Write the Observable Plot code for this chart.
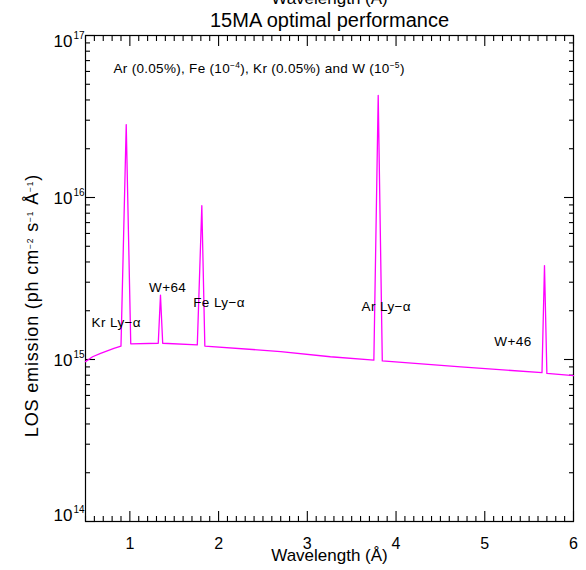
<!DOCTYPE html>
<html><head><meta charset="utf-8">
<script src="https://cdn.jsdelivr.net/npm/d3@7"></script>
<script src="https://cdn.jsdelivr.net/npm/@observablehq/plot@0.6"></script>
<style>body{margin:0;background:#fff} svg{display:block}</style>
</head><body><div id="chart"></div>
<script>
// Spectrum (wavelength in Å, LOS emission)
const wavelength = [0.50, 0.58, 0.67, 0.82, 0.90, 0.959, 1.01, 1.32, 1.345, 1.37, 1.76, 1.811, 1.845, 2.70, 3.26, 3.75, 3.799, 3.845, 4.73, 5.645, 5.673, 5.70, 6.00];
const emission   = [9.7e14, 1.04e15, 1.09e15, 1.17e15, 1.21e15, 2.82e16, 1.25e15, 1.26e15, 2.5e15, 1.26e15, 1.23e15, 8.9e15, 1.21e15, 1.12e15, 1.04e15, 9.9e14, 4.27e16, 9.8e14, 9.0e14, 8.3e14, 3.8e15, 8.2e14, 7.95e14];

// Line labels
const lineLabels = ["Kr Ly−α", "W+64", "Fe Ly−α", "Ar Ly−α", "W+46"];
const labelX = [0.568, 1.426, 1.714, 3.611, 5.318];
const labelY = [1.69e15, 2.77e15, 2.23e15, 2.12e15, 1.29e15];
const labelAlign = ["start", "middle", "start", "start", "middle"];

// Ticks
const xMajor = [1, 2, 3, 4, 5, 6];
const xMinor = d3.range(5, 61).filter(i => i % 10 !== 0).map(i => i / 10);
const yMajor = [1e14, 1e15, 1e16, 1e17];
const yExponents = ["14", "15", "16", "17"];
const yMinor = [14, 15, 16].flatMap(e => d3.range(2, 10).map(m => m * Math.pow(10, e)));

// Texts
const title = "15MA optimal performance";
const xTitle = "Wavelength (Å)";
const yTitle = "LOS emission (ph cm^{−2} s^{−1} Å^{−1})";
const note = "Ar (0.05%), Fe (10^{−4}), Kr (0.05%) and W (10^{−5})";

const spectrum = wavelength.map((w, i) => ({w, v: emission[i]}));
const labels = lineLabels.map((t, i) => ({t, x: labelX[i], y: labelY[i], a: labelAlign[i]}));
const yLab = yMajor.map((v, i) => ({v, e: yExponents[i]}));

const font = "'Liberation Sans', Arial, Helvetica, sans-serif";
const MAJOR = 10, MINOR = 5;
const blank = () => "";

// Inward ticks: Plot axes shifted inside the frame by their own tick length
const inX = (anchor, ticks, len) => Plot.axisX(ticks, {anchor, tickSize: len, dy: anchor === "bottom" ? -len : len, tickFormat: blank, label: null, stroke: "#000", strokeWidth: 1.1});
const inY = (anchor, ticks, len) => Plot.axisY(ticks, {anchor, tickSize: len, dx: anchor === "left" ? len : -len, tickFormat: blank, label: null, stroke: "#000", strokeWidth: 1.1});

const chart = Plot.plot({
  width: 586, height: 570,
  marginLeft: 85, marginRight: 13, marginTop: 35, marginBottom: 49,
  style: {fontFamily: font, color: "#000", background: "#fff"},
  x: {domain: [0.5, 6]},
  y: {type: "log", domain: [1e14, 1e17]},
  marks: [
    inX("bottom", xMajor, MAJOR), inX("bottom", xMinor, MINOR),
    inX("top", xMajor, MAJOR), inX("top", xMinor, MINOR),
    inY("left", yMajor, MAJOR), inY("left", yMinor, MINOR),
    inY("right", yMajor, MAJOR), inY("right", yMinor, MINOR),
    Plot.frame({stroke: "#000", strokeWidth: 1.2}),
    Plot.line(spectrum, {x: "w", y: "v", stroke: "#ff00ff", strokeWidth: 1.3}),
    // x tick labels
    Plot.text(xMajor, {x: d => d, frameAnchor: "bottom", lineAnchor: "middle", dy: 22, text: d => String(d), fontSize: 16, fill: "#000"}),
    // y tick labels
    Plot.text(yLab.slice(1, 3), {y: "v", frameAnchor: "left", lineAnchor: "middle", dx: -13, dy: 1, textAnchor: "end", text: () => "10", fontSize: 17}),
    Plot.text(yLab.slice(1, 3), {y: "v", frameAnchor: "left", lineAnchor: "middle", dx: -12, dy: -5, textAnchor: "start", text: "e", fontSize: 10}),
    Plot.text(yLab.slice(0, 1), {y: "v", frameAnchor: "left", lineAnchor: "middle", dx: -13, dy: -6, textAnchor: "end", text: () => "10", fontSize: 17}),
    Plot.text(yLab.slice(0, 1), {y: "v", frameAnchor: "left", lineAnchor: "middle", dx: -12, dy: -12, textAnchor: "start", text: "e", fontSize: 10}),
    Plot.text(yLab.slice(3), {y: "v", frameAnchor: "left", lineAnchor: "middle", dx: -13, dy: 6, textAnchor: "end", text: () => "10", fontSize: 17}),
    Plot.text(yLab.slice(3), {y: "v", frameAnchor: "left", lineAnchor: "middle", dx: -12, dy: 0, textAnchor: "start", text: "e", fontSize: 10}),
    // titles
    Plot.text([title], {frameAnchor: "top", lineAnchor: "middle", dy: -15, text: d => d, fontSize: 20}),
    Plot.text([xTitle], {frameAnchor: "top", lineAnchor: "middle", dy: -37, text: d => d, fontSize: 17}),
    Plot.text([xTitle], {frameAnchor: "bottom", lineAnchor: "middle", dy: 34, text: d => d, fontSize: 17}),
    Plot.text([yTitle], {frameAnchor: "left", lineAnchor: "middle", textAnchor: "middle", dx: -53, dy: 27, rotate: -90, text: d => d, fontSize: 18}),
    Plot.text([note], {frameAnchor: "top-left", lineAnchor: "middle", dx: 28, dy: 33, textAnchor: "start", text: d => d, fontSize: 13.5}),
    // line labels
    Plot.text(labels.filter(d => d.a === "start"), {x: "x", y: "y", text: "t", textAnchor: "start", fontSize: 13.5}),
    Plot.text(labels.filter(d => d.a === "middle"), {x: "x", y: "y", text: "t", textAnchor: "middle", fontSize: 13.5})
  ]
});

// Letter spacing to mimic the wider original typesetting
d3.select(chart).selectAll("text").each(function() {
  const s = this.textContent;
  if (s === yTitle) this.style.letterSpacing = "0.85px";
  else if (s === note) this.style.letterSpacing = "0.3px";
  else if (lineLabels.includes(s)) this.style.letterSpacing = "0.4px";
});

// Render ^{...} as superscripts
d3.select(chart).selectAll("text").each(function() {
  const el = d3.select(this);
  const s = this.textContent;
  if (!s.includes("^{")) return;
  const fs = parseFloat(getComputedStyle(this).fontSize) || 13;
  const shift = fs * 0.4;
  el.text(null);
  const parts = s.split(/\^\{([^}]*)\}/);
  parts.forEach((p, i) => {
    if (i % 2 === 1) {
      el.append("tspan").attr("dy", -shift).attr("font-size", fs * 0.65).text(p);
    } else if (p) {
      const t = el.append("tspan").text(p);
      if (i > 0) t.attr("dy", shift);
    }
  });
});
document.getElementById("chart").appendChild(chart);
</script>
</body></html>
